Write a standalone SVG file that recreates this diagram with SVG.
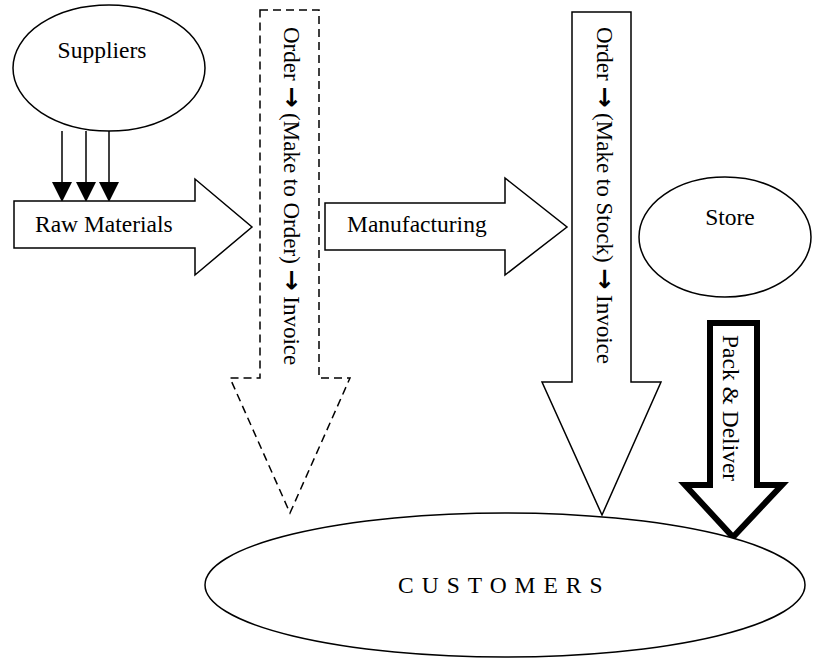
<svg xmlns="http://www.w3.org/2000/svg" width="820" height="658" viewBox="0 0 820 658">
<style>
.t{font-family:"Liberation Serif","Times New Roman",serif;font-size:23.5px;fill:#000}
.v{font-family:"Liberation Serif","Times New Roman",serif;font-size:23px;fill:#000}
.a{font-family:"DejaVu Sans",sans-serif;font-weight:bold;font-size:25px}
.s{fill:#fff;stroke:#000;stroke-width:1.5}
.d{fill:#fff;stroke:#000;stroke-width:1.5;stroke-dasharray:8,5}
.k{fill:#fff;stroke:#000;stroke-width:6;stroke-linejoin:miter}
</style>
<rect width="820" height="658" fill="#fff"/>
<g id="suppliers">
<ellipse class="s" cx="109" cy="68" rx="96" ry="63"/>
<text class="t" x="102" y="58" text-anchor="middle">Suppliers</text>
</g>
<g id="connectors">
<line x1="62" y1="131" x2="62" y2="184" stroke="#000" stroke-width="1.5"/>
<line x1="86" y1="131" x2="86" y2="184" stroke="#000" stroke-width="1.5"/>
<line x1="109" y1="131" x2="109" y2="184" stroke="#000" stroke-width="1.5"/>
<path d="M52,182 L72,182 L62,202 z M76,182 L96,182 L86,202 z M99,182 L119,182 L109,202 z" fill="#000"/>
</g>
<g id="raw-materials">
<path class="s" d="M14,201 L195,201 L195,179 L252,227 L195,275 L195,248 L14,248 z"/>
<text class="t" x="35" y="232">Raw Materials</text>
</g>
<g id="make-to-order">
<path class="d" d="M260,10 L319,10 L319,378 L350,378 L290,513 L230,378 L260,378 z"/>
<text class="v" transform="translate(284,27) rotate(90)">Order <tspan class="a" dy="0">→</tspan> (Make to Order) <tspan class="a">→</tspan> Invoice</text>
</g>
<g id="manufacturing">
<path class="s" d="M325,203 L505,203 L505,178 L567,227 L505,275 L505,250 L325,250 z"/>
<text class="t" x="347" y="232">Manufacturing</text>
</g>
<g id="make-to-stock">
<path class="s" d="M572,12 L631,12 L631,382 L661,382 L602,515 L542,382 L572,382 z"/>
<text class="v" transform="translate(597,27) rotate(90)">Order <tspan class="a">→</tspan> (Make to Stock) <tspan class="a">→</tspan> Invoice</text>
</g>
<g id="store">
<ellipse class="s" cx="725" cy="237" rx="86" ry="60"/>
<text class="t" x="730" y="225" text-anchor="middle">Store</text>
</g>
<g id="pack-deliver">
<path class="k" d="M710,323 L757,323 L757,485 L782,485 L733,537 L685,485 L710,485 z"/>
<text class="t" transform="translate(723,335) rotate(90)">Pack &amp; Deliver</text>
</g>
<g id="customers">
<ellipse class="s" cx="505" cy="585" rx="300" ry="72"/>
<text class="t" x="398" y="593" style="letter-spacing:8px">CUSTOMERS</text>
</g>
</svg>
